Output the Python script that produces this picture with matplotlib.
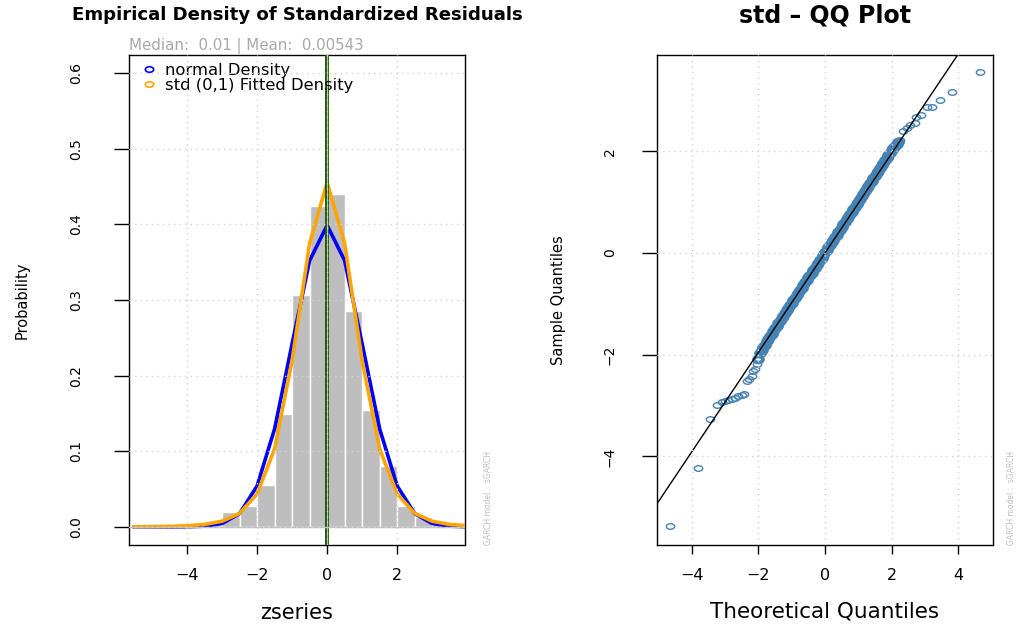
import numpy as np
import matplotlib
matplotlib.use("Agg")
import matplotlib.pyplot as plt
from matplotlib.path import Path
from matplotlib.transforms import Affine2D
from matplotlib.lines import Line2D

plt.rcParams['font.family'] = ['DejaVu Sans']

# ---------------- data: left panel ----------------
hist_breaks = [-5.5, -5.0, -4.5, -4.0, -3.5, -3.0, -2.5, -2.0, -1.5, -1.0, -0.5,
               0.0, 0.5, 1.0, 1.5, 2.0, 2.5, 3.0, 3.5, 4.0]
hist_density = [0.002, 0.0, 0.002, 0.0, 0.002, 0.019, 0.027, 0.055, 0.149, 0.306,
                0.424, 0.440, 0.285, 0.154, 0.081, 0.027, 0.013, 0.004, 0.002]
normal_density = [0.0000, 0.0000, 0.0000, 0.0001, 0.0009, 0.0044, 0.0175, 0.0540,
                  0.1295, 0.2420, 0.3521, 0.3989, 0.3521, 0.2420, 0.1295, 0.0540,
                  0.0175, 0.0044, 0.0009, 0.0001]
std_density = [0.0002, 0.0004, 0.0007, 0.0015, 0.0032, 0.0074, 0.0178, 0.0434,
               0.1030, 0.2197, 0.3748, 0.4555, 0.3748, 0.2197, 0.1030, 0.0434,
               0.0178, 0.0074, 0.0032, 0.0015]
z_mean = 0.00543
z_median = 0.01
zseries_range = [-5.30, 3.58]

# ---------------- data: right panel (QQ) ----------------
# sparse tail points
qq_tail_theoretical = [
    -4.65, -3.80, -3.45, -3.23, -3.10, -3.00, -2.90, -2.80, -2.70, -2.60, -2.50, -2.42,
    -2.35, -2.28, -2.20, -2.15, -2.10, -2.05,
    2.25, 2.34, 2.45, 2.55, 2.70, 2.74, 2.89, 3.07, 3.20, 3.45, 3.80, 4.65]
qq_tail_sample = [
    -5.36, -4.22, -3.26, -2.99, -2.93, -2.91, -2.89, -2.87, -2.85, -2.82, -2.80, -2.78,
    -2.52, -2.47, -2.42, -2.33, -2.28, -2.18,
    2.22, 2.40, 2.45, 2.51, 2.56, 2.68, 2.71, 2.87, 2.87, 3.01, 3.17, 3.55]
# dense central band
qq_band_theoretical = [
    -2.00, -1.95, -1.90, -1.85, -1.80, -1.75, -1.70, -1.65, -1.60, -1.55, -1.50, -1.45,
    -1.40, -1.35, -1.30, -1.25, -1.20, -1.15, -1.10, -1.05, -1.00, -0.95, -0.90, -0.85,
    -0.80, -0.75, -0.70, -0.65, -0.60, -0.55, -0.50, -0.45, -0.40, -0.35, -0.30, -0.25,
    -0.20, -0.15, -0.10, -0.05, 0.00, 0.05, 0.10, 0.15, 0.20, 0.25, 0.30, 0.35, 0.40,
    0.45, 0.50, 0.55, 0.60, 0.65, 0.70, 0.75, 0.80, 0.85, 0.90, 0.95, 1.00, 1.05, 1.10,
    1.15, 1.20, 1.25, 1.30, 1.35, 1.40, 1.45, 1.50, 1.55, 1.60, 1.65, 1.70, 1.75, 1.80,
    1.85, 1.90, 1.95, 2.00, 2.05, 2.10, 2.15, 2.20]
qq_band_sample = [
    -2.08, -1.97, -1.90, -1.85, -1.80, -1.74, -1.69, -1.64, -1.59, -1.53, -1.48, -1.43,
    -1.38, -1.33, -1.28, -1.23, -1.18, -1.13, -1.08, -1.03, -0.98, -0.93, -0.88, -0.83,
    -0.78, -0.73, -0.68, -0.63, -0.58, -0.53, -0.48, -0.44, -0.39, -0.34, -0.29, -0.24,
    -0.19, -0.14, -0.09, -0.04, 0.01, 0.06, 0.11, 0.16, 0.21, 0.26, 0.31, 0.36, 0.41,
    0.46, 0.51, 0.56, 0.61, 0.66, 0.71, 0.76, 0.81, 0.86, 0.91, 0.96, 1.01, 1.06, 1.11,
    1.16, 1.21, 1.27, 1.32, 1.37, 1.42, 1.47, 1.52, 1.57, 1.62, 1.67, 1.72, 1.77, 1.82,
    1.87, 1.92, 1.97, 2.02, 2.06, 2.10, 2.15, 2.19]
qqline_intercept = 0.0
qqline_slope = 0.978

left_xticks = [-4, -2, 0, 2]
left_yticks = [0.0, 0.1, 0.2, 0.3, 0.4, 0.5, 0.6]
right_xticks = [-4, -2, 0, 2, 4]
right_yticks = [-4, -2, 0, 2]

# ---------------- figure ----------------
W, H = 1018, 625
fig = plt.figure(figsize=(W / 100, H / 100), dpi=100)

def frac(x0, x1, y0, y1):
    return [x0 / W, 1 - y1 / H, (x1 - x0) / W, (y1 - y0) / H]

axL = fig.add_axes(frac(129, 465, 55, 545))
axR = fig.add_axes(frac(657, 993, 55, 545))

grid_kw = dict(color='#D3D3D3', lw=1.0, ls=(0, (1, 3)), zorder=6)

def style_axes(ax, ypad):
    for s in ax.spines.values():
        s.set_color('black')
        s.set_linewidth(1.0)
    ax.tick_params(axis='x', length=6.5, width=1, labelsize=11.5, pad=10)
    ax.tick_params(axis='y', length=11, width=1, labelsize=10, pad=ypad,
                   labelrotation=90)
    for lab in ax.get_yticklabels():
        lab.set_va('center')

# ellipse marker (R's open circle as seen in the horizontally stretched image)
ell = Path(Affine2D().scale(1.5, 1.0).transform(Path.unit_circle().vertices),
           Path.unit_circle().codes)

# ---- left panel ----
edges = np.array(hist_breaks)
axL.bar(edges[:-1], hist_density, width=np.diff(edges), align='edge',
        color='#BEBEBE', edgecolor='white', linewidth=1.0, zorder=1)
axL.plot(hist_breaks, normal_density, color='blue', lw=2.6, zorder=3)
axL.plot(hist_breaks, std_density, color='orange', lw=2.6, zorder=3)
axL.axvline(z_mean, color='red', lw=2.6, zorder=4)
axL.axvline(z_median, color='#006400', lw=2.6, zorder=4)
axL.axhline(0, color='#BEBEBE', lw=1.0, zorder=5)
axL.axvline(0, color='#BEBEBE', lw=0.8, zorder=5)
for t in left_xticks:
    axL.axvline(t, **grid_kw)
for t in left_yticks:
    axL.axhline(t, **grid_kw)

d = zseries_range[1] - zseries_range[0]
axL.set_xlim(zseries_range[0] - 0.04 * d, zseries_range[1] + 0.04 * d)
axL.set_ylim(-0.024, 0.624)
axL.set_xticks(left_xticks)
axL.set_yticks(left_yticks)
axL.set_yticklabels([f"{v:.1f}" for v in left_yticks])
style_axes(axL, 22)

axL.set_xlabel('zseries', fontsize=15)
axL.xaxis.set_label_coords(0.5, -(613 - 545) / 490)
axL.xaxis.label.set_va('center')
axL.set_ylabel('Probability', fontsize=10.5)
axL.yaxis.set_label_coords((22 - 129) / 336, 0.5)
axL.yaxis.label.set_va('center')

axL.text(0.5, 1 + (55 - 15) / 490, 'Empirical Density of Standardized Residuals',
         transform=axL.transAxes, ha='center', va='center', fontsize=13.1,
         fontweight='bold')
axL.text(0.0, 1 + (55 - 50) / 490, 'Median:  0.01 | Mean:  0.00543',
         transform=axL.transAxes, ha='left', va='baseline', fontsize=10.8,
         color='#A9A9A9')
axL.text(1 + (488 - 465) / 336, 0.0, 'GARCH model :  sGARCH', transform=axL.transAxes,
         rotation=90, ha='center', va='bottom', fontsize=5.5, color='#BEBEBE')

handles = [Line2D([], [], ls='none', marker=ell, markersize=6, mfc='none',
                  mec='blue', mew=1.2),
           Line2D([], [], ls='none', marker=ell, markersize=6, mfc='none',
                  mec='orange', mew=1.2)]
axL.legend(handles, ['normal Density', 'std (0,1) Fitted Density'],
           loc='upper left', bbox_to_anchor=(0.0, 1.005), frameon=False,
           fontsize=11.8, labelspacing=0.0, handletextpad=0.45,
           handlelength=1.1, borderaxespad=0.25)

# ---- right panel ----
axR.plot(qq_band_theoretical, qq_band_sample, ls='none', marker=ell, markersize=6.5,
         mfc='none', mec='#4682B4', mew=2.6, zorder=3)
axR.plot(qq_tail_theoretical, qq_tail_sample, ls='none', marker=ell, markersize=6,
         mfc='none', mec='#4682B4', mew=1.0, zorder=3)
axR.axline((0, qqline_intercept), slope=qqline_slope, color='black', lw=1.0, zorder=4)
for t in right_xticks:
    axR.axvline(t, **grid_kw)
for t in right_yticks:
    axR.axhline(t, **grid_kw)
axR.set_xlim(-5.04, 5.04)
axR.set_ylim(-5.74, 3.89)
axR.set_xticks(right_xticks)
axR.set_yticks(right_yticks)
style_axes(axR, 18)

axR.set_xlabel('Theoretical Quantiles', fontsize=15.5)
axR.xaxis.set_label_coords(0.5, -(612 - 545) / 490)
axR.xaxis.label.set_va('center')
axR.set_ylabel('Sample Quantiles', fontsize=10.5)
axR.yaxis.set_label_coords((559 - 657) / 336, 0.5)
axR.yaxis.label.set_va('center')
axR.text(0.5, 1 + (55 - 16) / 490, 'std – QQ Plot', transform=axR.transAxes,
         ha='center', va='center', fontsize=17, fontweight='bold')
axR.text(1 + (1011 - 993) / 336, 0.0, 'GARCH model :  sGARCH', transform=axR.transAxes,
         rotation=90, ha='center', va='bottom', fontsize=5.5, color='#BEBEBE')

fig.savefig('out.png', dpi=100)
